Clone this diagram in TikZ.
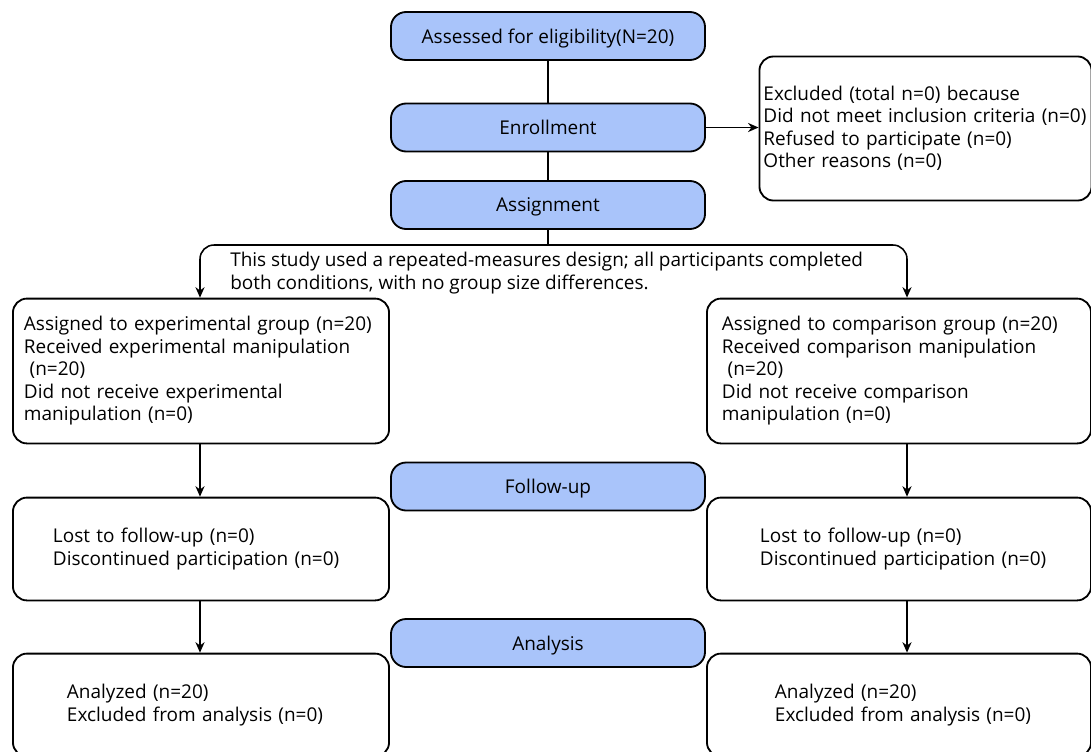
\documentclass[tikz,border=0pt]{standalone}
\usepackage{fontspec}
\setmainfont{Open Sans}
\usetikzlibrary{arrows.meta, positioning}
\definecolor{phaseblue}{RGB}{169,196,250}

\begin{document}
\begin{tikzpicture}[x=0.025cm, y=-0.025cm, every node/.style={font=\fontsize{13.5}{16}\selectfont},
    phase/.style={draw, line width=1.3pt, fill=phaseblue, rounded corners=0.38cm, minimum width=7.85cm, minimum height=1.2cm, text depth=0pt},
    infobox/.style={draw, line width=1.3pt, rounded corners=0.35cm, align=left, inner ysep=0pt},
    pad/.style={execute at begin node={\leftskip=#1\relax}},
    link/.style={line width=1.1pt},
    flow/.style={link, -{Stealth[length=7.5pt, width=6.5pt]}}]
                \useasboundingbox (0,0) rectangle (1091,751);
                % Fases
                \node[phase] (elig) at (548,36) {Assessed for eligibility(N=20)};
                \node[phase] (enrol) at (548,127.5) {Enrollment};
                \node[phase] (assign) at (548,205) {Assignment};
                \node[phase] (follow) at (548,486.5) {Follow-up};
                \node[phase] (analysis) at (548,643) {Analysis};
                % Excluidos
                \node[infobox, minimum height=3.6cm, text width=8.1cm, inner xsep=0.1cm] (excl) at (925.5,128.5)
                    {Excluded (total n=0) because\\Did not meet inclusion criteria (n=0)\\Refused to participate (n=0)\\Other reasons (n=0)};
                % Grupos
                \node[infobox, minimum height=3.62cm, text width=8.85cm, inner xsep=0.275cm] (grpA) at (201,371)
                    {Assigned to experimental group (n=20)\\Received experimental manipulation\\\hspace*{0.3em}(n=20)\\Did not receive experimental\\manipulation (n=0)};
                \node[infobox, minimum height=3.62cm, text width=8.85cm, inner xsep=0.375cm] (grpB) at (899,371)
                    {Assigned to comparison group (n=20)\\Received comparison manipulation\\\hspace*{0.3em}(n=20)\\Did not receive comparison\\manipulation (n=0)};
                % Seguimento
                \node[infobox, minimum height=2.57cm, text width=8.85cm, inner xsep=0.275cm, pad=0.725cm] (lostA) at (201,549)
                    {Lost to follow-up (n=0)\\Discontinued participation (n=0)};
                \node[infobox, minimum height=2.57cm, text width=8.85cm, inner xsep=0.375cm, pad=0.95cm] (lostB) at (899,549)
                    {Lost to follow-up (n=0)\\Discontinued participation (n=0)};
                % Analise
                \node[infobox, minimum height=2.57cm, text width=8.85cm, inner xsep=0.275cm, pad=1.075cm] (anaA) at (201,705)
                    {Analyzed (n=20)\\Excluded from analysis (n=0)};
                \node[infobox, minimum height=2.57cm, text width=8.85cm, inner xsep=0.375cm, pad=1.325cm] (anaB) at (899,705)
                    {Analyzed (n=20)\\Excluded from analysis (n=0)};
                % Nota
                \node[anchor=west, align=left, inner sep=0pt] (note) at (230,273)
                    {This study used a repeated-measures design; all participants completed\\both conditions, with no group size differences.};
                % Ligacoes
                \coordinate (splitL) at (200,245);
                \coordinate (splitR) at (907,245);
                \draw[link] (elig) -- (enrol);
                \draw[link] (enrol) -- (assign);
                \draw[flow] (enrol.east) -- (excl.west |- enrol.east);
                \draw[link] (assign.south) -- (assign.south |- splitL);
                \draw[flow, rounded corners=0.35cm] (assign.south |- splitL) -- (splitL) -- (grpA.north -| splitL);
                \draw[flow, rounded corners=0.35cm] (assign.south |- splitR) -- (splitR) -- (grpB.north -| splitR);
                \draw[flow] (grpA.south -| splitL) -- (lostA.north -| splitL);
                \draw[flow] (lostA.south -| splitL) -- (anaA.north -| splitL);
                \draw[flow] (grpB.south -| splitR) -- (lostB.north -| splitR);
                \draw[flow] (lostB.south -| splitR) -- (anaB.north -| splitR);
            \end{tikzpicture}
\end{document}
